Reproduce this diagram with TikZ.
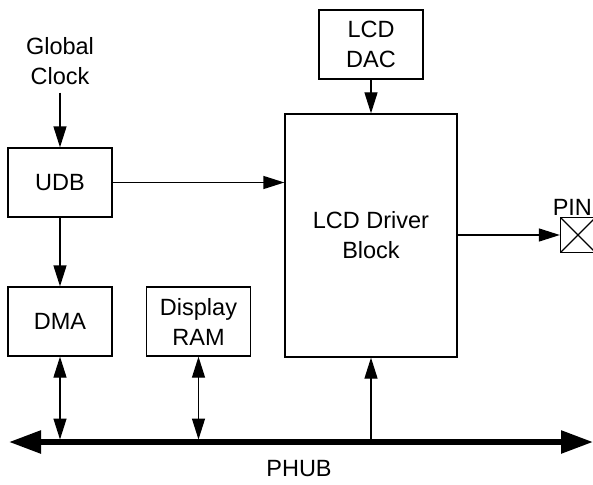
\documentclass[tikz,border=0pt]{standalone}
\usepackage{fontspec}
\setmainfont{Liberation Sans}
\usetikzlibrary{arrows.meta, positioning}
\tikzset{
	block/.style={draw, line width=1.3pt, shape=rectangle, minimum width=104pt, minimum height=69pt, align=center, inner sep=2pt},
	driverblock/.style={block, minimum width=172pt, minimum height=243pt},
	pinbox/.style={draw, line width=1.3pt, minimum size=35pt, inner sep=0pt,
		path picture={\draw[line width=1.3pt] (path picture bounding box.south west) -- (path picture bounding box.north east)
			(path picture bounding box.north west) -- (path picture bounding box.south east);}},
	sig/.style={-{Triangle[length=21pt, width=13pt]}, line width=1.3pt},
	bisig/.style={{Triangle[length=21pt, width=13pt]}-{Triangle[length=21pt, width=13pt]}, line width=1.3pt, shorten >=2.5pt},
	bussig/.style={-{Triangle[length=21pt, width=13pt]}, line width=1.3pt},
	bus/.style={{Triangle[length=32pt, width=22pt]}-{Triangle[length=32pt, width=22pt]}, line width=5.5pt},
	annotation/.style={align=center}
}

\begin{document}
\begin{tikzpicture}[x=1pt, y=-1pt, on grid, font=\fontsize{23.5}{30}\selectfont]
		\useasboundingbox (0,0) rectangle (593,484);
		
		% Nodes
		\node (UDB) [block] at (60,182.5) {UDB};
		\node (DMA) [block, below=139pt of UDB] {DMA};
		\node (RAM) [block, right=138.5pt of DMA] {Display\\RAM};
		\node (DRV) [driverblock] at (371,235.5) {LCD Driver\\Block};
		\node (DAC) [block, above=191pt of DRV] {LCD\\DAC};
		\node (PIN) [pinbox, label={[anchor=south east, xshift=-3pt, inner sep=1pt]north east:PIN}] at (578,235) {};
		
		% Annotations
		\node (CLK) [annotation, above=121pt of UDB] {Global\\Clock};
		\node (PHUB) at (299,469) {PHUB};
		
		% Bus
		\coordinate (busL) at (9,442);
		\coordinate (busR) at (593,442);
		\draw [bus] (busL) -- (busR);
		
		% Arrows
		\draw [sig, shorten <=4pt] (CLK) -- (UDB);
		\draw [sig] (UDB) -- (UDB -| DRV.west);
		\draw [sig] (UDB) -- (DMA);
		\draw [sig] (DAC) -- (DRV);
		\draw [sig] (DRV.east |- PIN) -- (PIN);
		\draw [bisig] (DMA) -- (DMA |- busL);
		\draw [bisig] (RAM) -- (RAM |- busL);
		\draw [bussig] (DRV |- busL) -- (DRV);

\end{tikzpicture}
\end{document}
